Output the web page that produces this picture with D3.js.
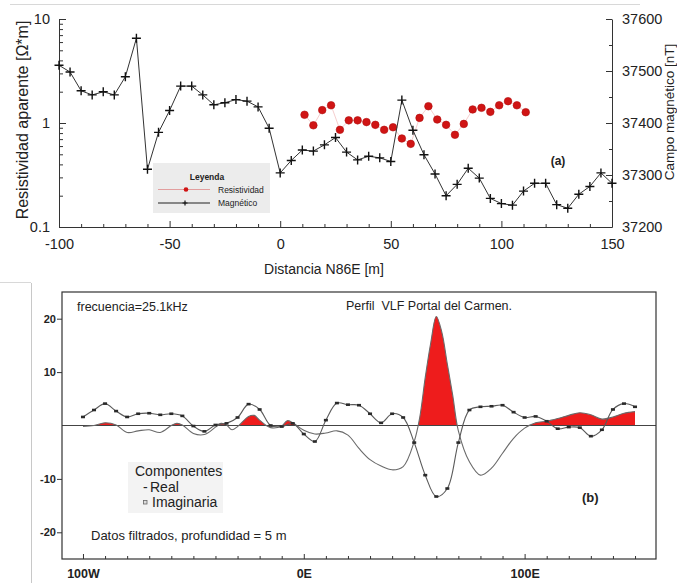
<!DOCTYPE html>
<html><head><meta charset="utf-8">
<script src="https://cdnjs.cloudflare.com/ajax/libs/d3/7.8.5/d3.min.js"></script>
<style>
body{margin:0;background:#fff}
svg{display:block}
text{font-family:"Liberation Sans",Arial,sans-serif;fill:#222}
</style>
</head><body>
<svg id="c" width="677" height="583"></svg>
<script>
// ---------- Panel (a) data ----------
const magDist = [-100,-95,-90,-85,-80,-75,-70,-65,-60,-55,-50,-45,-40,-35,-30,-25,-20,-15,-10,-5,0,
  5,10,15,20,25,30,35,40,45,50,55,60,65,70,75,80,85,90,95,100,105,110,115,120,125,130,135,140,145,150];
const magValues = [37511,37498,37462,37454,37460,37454,37489,37563,37311,37382,37424,37471,37471,37454,37435,37439,37445,37442,37431,37390,37304,
  37328,37348,37346,37358,37372,37344,37329,37336,37333,37326,37444,37386,37339,37302,37260,37282,37313,37294,37255,37245,37242,37269,37284,37284,37243,37236,37263,37278,37304,37284];
const resDist = [11,15,19,23,27,31,35,39,43,47,51,55,59,63,67,71,75,79,83,87,91,95,99,103,107,111];
const resValues = [1.20,0.95,1.33,1.48,0.86,1.06,1.06,1.02,0.96,0.86,0.91,0.71,0.63,1.12,1.45,1.08,0.96,0.77,0.98,1.35,1.40,1.28,1.48,1.62,1.48,1.27];
const resTicks = [0.1,1,10];
const resMinorTicks = [0.2,0.3,0.4,0.5,0.6,0.7,0.8,0.9,2,3,4,5,6,7,8,9];
const distTicks = [-100,-50,0,50,100,150];
const distMinorTicks = [-90,-80,-70,-60,-40,-30,-20,-10,10,20,30,40,60,70,80,90,110,120,130,140];
const magTicks = [37200,37300,37400,37500,37600];
const magMinorTicks = [37250,37350,37450,37550];

// ---------- Panel (b) data ----------
const realDist = [-100,-95,-90,-85,-80,-75,-70,-65,-60,-55,-50,-45,-40,-35,-30,-25,-20,-15,-10,-5,
  0,5,10,15,20,25,30,35,40,45,50,55,60,65,70,75,80,85,90,95,100,105,110,115,120,125,130,135,140,145,150];
const realValues = [1.6,2.9,4.1,2.7,1.6,2.2,2.3,2.0,2.2,1.8,-0.1,-1.1,0.1,0.4,1.5,4.0,3.0,0.0,-0.2,0.4,
  -1.6,-3.0,1.0,4.2,3.9,3.8,2.2,0.5,2.2,1.5,-3.2,-9.3,-13.3,-11.8,-3.2,2.9,3.5,3.6,3.8,2.5,1.5,1.7,0.8,-0.6,-0.3,-0.4,-2.0,-0.8,3.0,4.1,3.5];
const imagDist = [-100,-95,-90,-85,-80,-75,-70,-65,-60,-57.5,-55,-50,-45,-40,-37.5,-35,-32.5,-30,-25,-22.5,-20,-15,-10,-7.5,-5,
  0,5,10,15,20,25,30,35,40,45,50,52.5,55,57.5,60,62.5,65,67.5,70,75,80,85,90,95,100,105,110,115,120,125,130,135,140,145,150];
const imagValues = [-0.2,0.0,0.5,0.1,-1.3,-1.0,-0.8,-1.3,0.0,0.4,0.1,-1.5,-1.7,-0.3,0.4,0.1,-0.8,-0.2,1.7,1.9,1.0,-0.4,-0.1,0.9,0.5,
  -0.9,-1.6,-1.4,-1.0,-1.8,-4.3,-6.4,-7.6,-8.3,-7.7,-3.0,1.5,9.0,15.5,20.4,17.5,11.5,5.5,-1.0,-6.8,-9.3,-8.0,-5.2,-2.4,-0.5,0.5,0.8,1.3,1.9,2.4,2.0,1.2,1.6,2.3,2.6];
const vlfTicks = [-20,-10,10,20];
const profTicks = [-100,0,100];
const profTickLabels = ["100W","0E","100E"];
const profMinorTicks = [-90,-80,-70,-60,-50,-40,-30,-20,-10,10,20,30,40,50,60,70,80,90,110,120,130,140,150];

const svg = d3.select("#c");

// faint scan frame lines
svg.append("line").attr("x1",10).attr("x2",640).attr("y1",4.5).attr("y2",4.5).attr("stroke","#d8d8d8");
svg.append("line").attr("x1",31.5).attr("x2",31.5).attr("y1",283).attr("y2",583).attr("stroke","#c8c8c8");
svg.append("line").attr("x1",0).attr("x2",31).attr("y1",282.5).attr("y2",282.5).attr("stroke","#d8d8d8");

// ================= Panel (a) =================
const xA = d3.scaleLinear().domain([-100,150]).range([59,612]);
const yRes = d3.scaleLog().domain([0.1,10]).range([227,19]);
const yMag = d3.scaleLinear().domain([37200,37600]).range([227,19]);
const gA = svg.append("g");

function styleAxis(g, size){
  g.selectAll("path,line").attr("stroke","#333").attr("stroke-width",1);
  g.selectAll("text").attr("font-size",size).attr("fill","#222").attr("font-family","'Liberation Sans',Arial,sans-serif");
}
// left major/minor
gA.append("g").attr("transform","translate(59,0)")
  .call(d3.axisLeft(yRes).tickValues(resTicks).tickFormat(d=>String(d)).tickSizeInner(-7).tickSizeOuter(0).tickPadding(9))
  .call(g=>styleAxis(g,14.5));
gA.append("g").attr("transform","translate(59,0)")
  .call(d3.axisLeft(yRes).tickValues(resMinorTicks).tickFormat("").tickSizeInner(-4).tickSizeOuter(0))
  .call(g=>{g.select(".domain").remove(); styleAxis(g,14);});
// bottom
gA.append("g").attr("transform","translate(0,227)")
  .call(d3.axisBottom(xA).tickValues(distTicks).tickFormat(d=>String(d)).tickSizeInner(-6).tickSizeOuter(0).tickPadding(12))
  .call(g=>styleAxis(g,14.5));
gA.append("g").attr("transform","translate(0,227)")
  .call(d3.axisBottom(xA).tickValues(distMinorTicks).tickFormat("").tickSizeInner(-3).tickSizeOuter(0))
  .call(g=>{g.select(".domain").remove(); styleAxis(g,14);});
// right
gA.append("g").attr("transform","translate(612,0)")
  .call(d3.axisRight(yMag).tickValues(magTicks).tickFormat(d=>String(d)).tickSizeInner(-6).tickSizeOuter(0).tickPadding(10))
  .call(g=>styleAxis(g,14.5));
gA.append("g").attr("transform","translate(612,0)")
  .call(d3.axisRight(yMag).tickValues(magMinorTicks).tickFormat("").tickSizeInner(-3).tickSizeOuter(0))
  .call(g=>{g.select(".domain").remove(); styleAxis(g,14);});

// axis titles
gA.append("text").attr("transform","translate(28,120) rotate(-90)").attr("text-anchor","middle")
  .attr("font-size",16).text("Resistividad aparente [Ω*m]");
gA.append("text").attr("x",324).attr("y",274).attr("text-anchor","middle").attr("font-size",14).text("Distancia N86E [m]");
gA.append("text").attr("transform","translate(674,112) rotate(-90)").attr("text-anchor","middle")
  .attr("font-size",13.5).text("Campo magnético [nT]");
gA.append("text").attr("x",558).attr("y",165).attr("text-anchor","middle").attr("font-size",12).attr("font-weight","bold").text("(a)");

// resistivity faint line + dots
const resData = resDist.map((d,i)=>({d, v:resValues[i]}));
gA.append("path").datum(resData)
  .attr("d", d3.line().x(p=>xA(p.d)).y(p=>yRes(p.v)))
  .attr("fill","none").attr("stroke","#f3c2c2").attr("stroke-width",0.8);
gA.selectAll("circle.res").data(resData).join("circle").attr("class","res")
  .attr("cx",p=>xA(p.d)).attr("cy",p=>yRes(p.v)).attr("r",3.8)
  .attr("fill","#d01414").attr("stroke","#b00d0d").attr("stroke-width",0.6);

// magnetic line + crosses
const magData = magDist.map((d,i)=>({d, v:magValues[i]}));
gA.append("path").datum(magData)
  .attr("d", d3.line().x(p=>xA(p.d)).y(p=>yMag(p.v)))
  .attr("fill","none").attr("stroke","#333").attr("stroke-width",1);
gA.selectAll("path.cross").data(magData).join("path").attr("class","cross")
  .attr("transform",p=>`translate(${xA(p.d)},${yMag(p.v)})`)
  .attr("d","M-4.5,0H4.5M0,-4.5V4.5").attr("stroke","#111").attr("stroke-width",1.4);

// legend (a)
const lg = gA.append("g");
lg.append("rect").attr("x",153).attr("y",163).attr("width",117).attr("height",50).attr("fill","#ececec");
lg.append("text").attr("x",207).attr("y",180).attr("text-anchor","middle").attr("font-size",8.5).attr("font-weight","bold").text("Leyenda");
lg.append("line").attr("x1",158).attr("x2",210).attr("y1",189.5).attr("y2",189.5).attr("stroke","#e08a8a").attr("stroke-width",0.8);
lg.append("circle").attr("cx",186).attr("cy",189.5).attr("r",2.3).attr("fill","#d01414");
lg.append("text").attr("x",218).attr("y",192.5).attr("font-size",8.5).text("Resistividad");
lg.append("line").attr("x1",158).attr("x2",210).attr("y1",203).attr("y2",203).attr("stroke","#222").attr("stroke-width",1);
lg.append("path").attr("transform","translate(185,203)").attr("d","M-2.5,0H2.5M0,-2.5V2.5").attr("stroke","#111").attr("stroke-width",1.2);
lg.append("text").attr("x",218).attr("y",206).attr("font-size",8.5).text("Magnético");

// ================= Panel (b) =================
const bx0 = 62, bx1 = 656, by0 = 292, by1 = 559;
const xB = d3.scaleLinear().domain([-109.5,159.5]).range([bx0,bx1]);
const yB = d3.scaleLinear().domain([-25,25]).range([by1,by0]);
const gB = svg.append("g");

gB.append("defs").html(
  `<clipPath id="boxclip"><rect x="${bx0}" y="${by0}" width="${bx1-bx0}" height="${by1-by0}"/></clipPath>
   <clipPath id="posclip"><rect x="${bx0}" y="${by0}" width="${bx1-bx0}" height="${yB(0)-by0}"/></clipPath>`);

// legend background (b)
gB.append("rect").attr("x",128).attr("y",462).attr("width",95).attr("height",51).attr("fill","#f3f3f3");

const imagData = imagDist.map((d,i)=>({d, v:imagValues[i]}));
const realData = realDist.map((d,i)=>({d, v:realValues[i]}));
const curve = d3.curveCatmullRom.alpha(0.5);

// red positive fill
gB.append("path").datum(imagData).attr("clip-path","url(#posclip)")
  .attr("d", d3.area().x(p=>xB(p.d)).y0(yB(0)).y1(p=>yB(p.v)).curve(curve))
  .attr("fill","#ee1c1c");

const plot = gB.append("g").attr("clip-path","url(#boxclip)");
// zero line
plot.append("line").attr("x1",bx0).attr("x2",bx1).attr("y1",yB(0)).attr("y2",yB(0)).attr("stroke","#444").attr("stroke-width",1.1);
// unmarked curve
plot.append("path").datum(imagData)
  .attr("d", d3.line().x(p=>xB(p.d)).y(p=>yB(p.v)).curve(curve))
  .attr("fill","none").attr("stroke","#6a6a6a").attr("stroke-width",1.1);
// marked curve
plot.append("path").datum(realData)
  .attr("d", d3.line().x(p=>xB(p.d)).y(p=>yB(p.v)).curve(curve))
  .attr("fill","none").attr("stroke","#5a5a5a").attr("stroke-width",1.1);
plot.selectAll("rect.mk").data(realData).join("rect").attr("class","mk")
  .attr("x",p=>xB(p.d)-2).attr("y",p=>yB(p.v)-1.3).attr("width",4).attr("height",2.6)
  .attr("fill","#2a2a2a");

// box
gB.append("rect").attr("x",bx0).attr("y",by0).attr("width",bx1-bx0).attr("height",by1-by0)
  .attr("fill","none").attr("stroke","#333").attr("stroke-width",1.2);

// left axis
gB.append("g").attr("transform",`translate(${bx0},0)`)
  .call(d3.axisLeft(yB).tickValues(vlfTicks).tickFormat(d=>String(d)).tickSize(5).tickPadding(1))
  .call(g=>{g.select(".domain").remove(); styleAxis(g,11); g.selectAll("text").attr("font-weight","bold");});
// bottom axis
gB.append("g").attr("transform",`translate(0,${by1})`)
  .call(d3.axisBottom(xB).tickValues(profTicks).tickFormat((d,i)=>profTickLabels[i]).tickSizeInner(-5).tickSizeOuter(0).tickPadding(10))
  .call(g=>{g.select(".domain").remove(); styleAxis(g,12.5);
    g.selectAll("text").attr("font-family","'Liberation Mono','DejaVu Sans Mono',monospace").attr("font-weight","bold");});
gB.append("g").attr("transform",`translate(0,${by1})`)
  .call(d3.axisBottom(xB).tickValues(profMinorTicks).tickFormat("").tickSizeInner(-3).tickSizeOuter(0))
  .call(g=>{g.select(".domain").remove(); styleAxis(g,12);});

// texts (b)
gB.append("text").attr("x",77).attr("y",311).attr("font-size",12.5).text("frecuencia=25.1kHz");
gB.append("text").attr("x",346).attr("y",310).attr("font-size",12.5).attr("xml:space","preserve").text("Perfil  VLF Portal del Carmen.");
gB.append("text").attr("x",135).attr("y",476).attr("font-size",14).text("Componentes");
gB.append("text").attr("x",143).attr("y",492).attr("font-size",14).text("-");
gB.append("text").attr("x",150).attr("y",492).attr("font-size",14).text("Real");
gB.append("rect").attr("x",143.5).attr("y",500.5).attr("width",3.5).attr("height",3.5).attr("fill","#ddd").attr("stroke","#666").attr("stroke-width",0.8);
gB.append("text").attr("x",152).attr("y",507).attr("font-size",14).text("Imaginaria");
gB.append("text").attr("x",91).attr("y",540).attr("font-size",13).text("Datos filtrados, profundidad = 5 m");
gB.append("text").attr("x",582).attr("y",502).attr("font-size",13).attr("font-weight","bold").text("(b)");
</script>
</body></html>
